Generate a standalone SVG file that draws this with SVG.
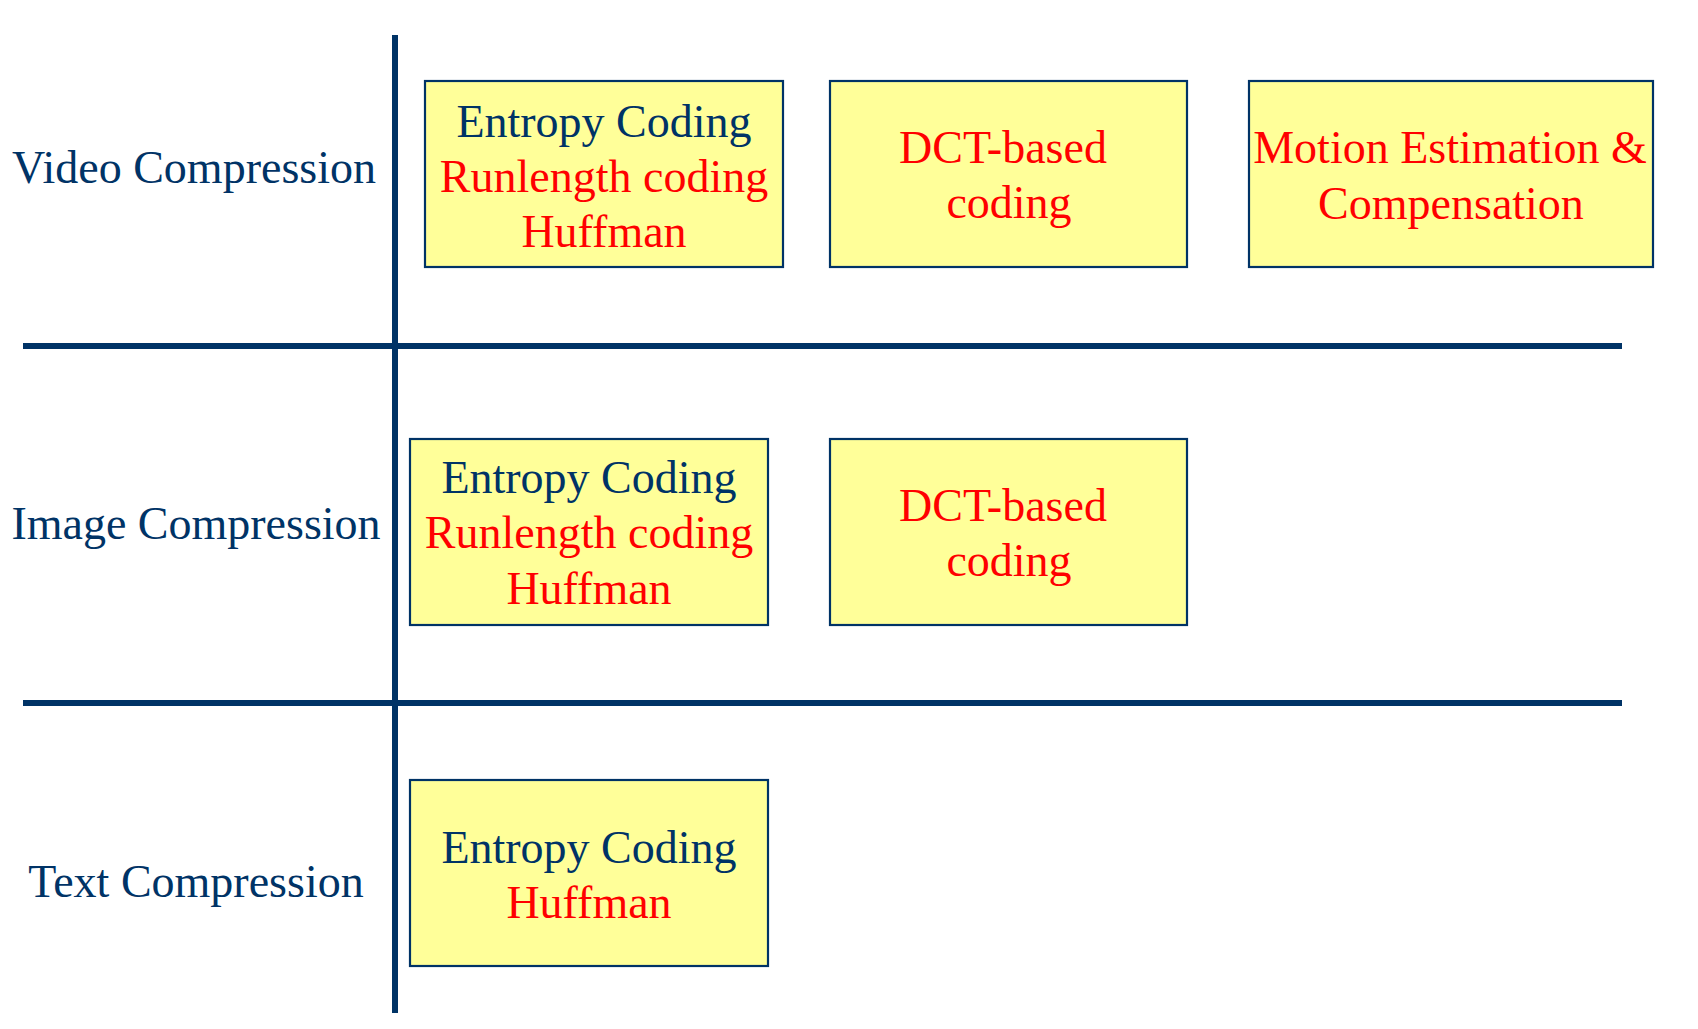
<svg xmlns="http://www.w3.org/2000/svg" width="1698" height="1029" viewBox="0 0 1698 1029">
<style>
  .bg { fill: #ffffff; }
  .rule { stroke: #003366; stroke-width: 6; fill: none; }
  .box { fill: #FFFF99; stroke: #003366; stroke-width: 2.2; }
  text { font-family: "Liberation Serif", "Times New Roman", serif; font-size: 46px; text-anchor: middle; }
  .navy { fill: #003366; }
  .red { fill: #FF0000; }
</style>
<rect class="bg" x="0" y="0" width="1698" height="1029"/>
<g id="connectors">
  <line class="rule" x1="395" y1="35" x2="395" y2="1013"/>
  <line class="rule" x1="23" y1="346" x2="1622" y2="346"/>
  <line class="rule" x1="23" y1="703" x2="1622" y2="703"/>
</g>
<g id="label-video"><text class="navy" x="194" y="183">Video Compression</text></g>
<g id="label-image"><text class="navy" x="196" y="539">Image Compression</text></g>
<g id="label-text"><text class="navy" x="196" y="897">Text Compression</text></g>

<g id="video-entropy">
  <rect class="box" x="425" y="81" width="358" height="186"/>
  <text class="navy" x="604" y="137">Entropy Coding</text>
  <text class="red" x="604" y="192">Runlength coding</text>
  <text class="red" x="604" y="247">Huffman</text>
</g>
<g id="video-dct">
  <rect class="box" x="830" y="81" width="357" height="186"/>
  <text class="red" x="1003" y="163">DCT-based</text>
  <text class="red" x="1009" y="218">coding</text>
</g>
<g id="video-motion">
  <rect class="box" x="1249" y="81" width="404" height="186"/>
  <text class="red" x="1450" y="163">Motion Estimation &amp;</text>
  <text class="red" x="1451" y="219">Compensation</text>
</g>

<g id="image-entropy">
  <rect class="box" x="410" y="439" width="358" height="186"/>
  <text class="navy" x="589" y="493">Entropy Coding</text>
  <text class="red" x="589" y="548">Runlength coding</text>
  <text class="red" x="589" y="604">Huffman</text>
</g>
<g id="image-dct">
  <rect class="box" x="830" y="439" width="357" height="186"/>
  <text class="red" x="1003" y="521">DCT-based</text>
  <text class="red" x="1009" y="576">coding</text>
</g>

<g id="text-entropy">
  <rect class="box" x="410" y="780" width="358" height="186"/>
  <text class="navy" x="589" y="863">Entropy Coding</text>
  <text class="red" x="589" y="918">Huffman</text>
</g>
</svg>
